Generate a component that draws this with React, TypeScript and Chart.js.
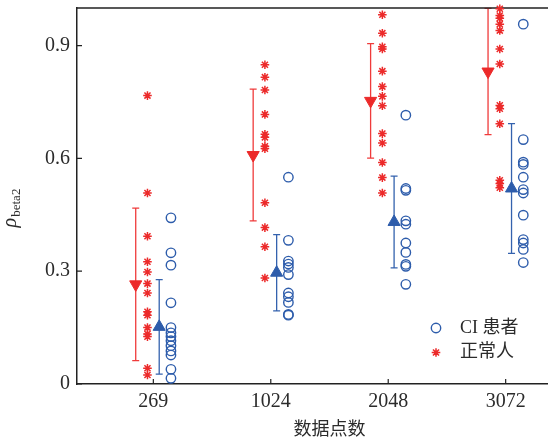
import React, { useEffect, useRef } from "react";
import { Chart, registerables } from "chart.js";

Chart.register(...registerables);

// ---------- data ----------
const categories = ["269", "1024", "2048", "3072"];
const yTickValues = [0, 0.3, 0.6, 0.9];
const seriesLabels = ["CI 患者", "正常人"];
const xAxisTitle = "数据点数";

const ciValues = [
  [0.442, 0.349, 0.316, 0.216, 0.15, 0.136, 0.126, 0.115, 0.102, 0.088, 0.077, 0.039, 0.015],
  [0.55, 0.382, 0.327, 0.319, 0.31, 0.291, 0.242, 0.232, 0.217, 0.185, 0.183],
  [0.715, 0.52, 0.515, 0.434, 0.425, 0.375, 0.35, 0.318, 0.313, 0.265],
  [0.957, 0.65, 0.59, 0.584, 0.55, 0.517, 0.508, 0.449, 0.384, 0.375, 0.358, 0.323],
];
const normalValues = [
  [0.767, 0.508, 0.393, 0.325, 0.298, 0.267, 0.242, 0.192, 0.183, 0.15, 0.133, 0.126, 0.042, 0.024],
  [0.849, 0.816, 0.782, 0.717, 0.664, 0.656, 0.632, 0.626, 0.482, 0.416, 0.365, 0.282],
  [0.982, 0.933, 0.897, 0.891, 0.832, 0.791, 0.765, 0.74, 0.666, 0.641, 0.589, 0.549, 0.508],
  [0.998, 0.98, 0.973, 0.957, 0.94, 0.891, 0.851, 0.741, 0.732, 0.692, 0.542, 0.533, 0.522],
];
const ciMean = [0.152, 0.296, 0.431, 0.52];
const ciStd = [0.1255, 0.1015, 0.122, 0.1725];
const normalMean = [0.265, 0.609, 0.753, 0.831];
const normalStd = [0.203, 0.175, 0.1525, 0.168];

// ---------- styling / layout ----------
const RED = "#ec2a2a";
const RED_BAR = "#ef3b3b";
const BLUE = "#2d5cab";
const BLUE_BAR = "#3462ae";
const AXIS = "#222222";
const TEXT = "#2b2b2b";
const SERIF = '"Liberation Serif", "DejaVu Serif", serif';
const CJK = '"Noto Sans CJK SC", sans-serif';

const OFF_NORMAL_BAR = -0.15;
const OFF_NORMAL_PTS = -0.05;
const OFF_CI_BAR = 0.05;
const OFF_CI_PTS = 0.15;

const CANVAS_W = 590;
const CANVAS_H = 443;

export default function App() {
  const ref = useRef<HTMLCanvasElement | null>(null);

  useEffect(() => {
    const canvas = ref.current;
    if (!canvas) return;

    const ciPts = ciValues.flatMap((arr, i) => arr.map((v) => ({ x: i + 1 + OFF_CI_PTS, y: v })));
    const normalPts = normalValues.flatMap((arr, i) => arr.map((v) => ({ x: i + 1 + OFF_NORMAL_PTS, y: v })));
    const ciMeanPts = ciMean.map((m, i) => ({ x: i + 1 + OFF_CI_BAR, y: m }));
    const normalMeanPts = normalMean.map((m, i) => ({ x: i + 1 + OFF_NORMAL_BAR, y: m }));

    const decor = {
      id: "decor",
      beforeDatasetsDraw(chart: any) {
        const { ctx, chartArea, scales } = chart;
        const xs = scales.x;
        const ys = scales.y;
        ctx.save();
        const drawBar = (xv: number, m: number, s: number, color: string) => {
          const px = xs.getPixelForValue(xv);
          const top = ys.getPixelForValue(m + s);
          const bot = ys.getPixelForValue(m - s);
          ctx.strokeStyle = color;
          ctx.lineWidth = 1.3;
          ctx.beginPath();
          ctx.moveTo(px, top);
          ctx.lineTo(px, bot);
          ctx.moveTo(px - 3.5, top);
          ctx.lineTo(px + 3.5, top);
          ctx.moveTo(px - 3.5, bot);
          ctx.lineTo(px + 3.5, bot);
          ctx.stroke();
        };
        categories.forEach((_, i) => {
          drawBar(i + 1 + OFF_NORMAL_BAR, normalMean[i], normalStd[i], RED_BAR);
          drawBar(i + 1 + OFF_CI_BAR, ciMean[i], ciStd[i], BLUE_BAR);
        });
        ctx.strokeStyle = AXIS;
        ctx.lineWidth = 1.5;
        ctx.beginPath();
        ctx.moveTo(chartArea.left, chartArea.top);
        ctx.lineTo(chartArea.right, chartArea.top);
        ctx.lineTo(chartArea.right, chartArea.bottom);
        ctx.stroke();
        ctx.lineWidth = 1.2;
        ctx.beginPath();
        yTickValues.forEach((v) => {
          const py = ys.getPixelForValue(v);
          ctx.moveTo(chartArea.left, py);
          ctx.lineTo(chartArea.left + 5, py);
        });
        categories.forEach((_, i) => {
          const px = xs.getPixelForValue(i + 1);
          ctx.moveTo(px, chartArea.bottom);
          ctx.lineTo(px, chartArea.bottom - 5);
        });
        ctx.stroke();
        ctx.restore();
      },
      afterDraw(chart: any) {
        const { ctx, chartArea } = chart;
        ctx.save();
        const cy = (chartArea.top + chartArea.bottom) / 2 + 12;
        ctx.translate(16, cy);
        ctx.rotate(-Math.PI / 2);
        ctx.fillStyle = TEXT;
        ctx.textBaseline = "alphabetic";
        ctx.font = `italic 20px ${SERIF}`;
        const w1 = ctx.measureText("ρ").width;
        ctx.font = `13px ${SERIF}`;
        const w2 = ctx.measureText("beta2").width;
        const start = -(w1 + 1 + w2) / 2;
        ctx.font = `italic 20px ${SERIF}`;
        ctx.fillText("ρ", start, 0);
        ctx.font = `13px ${SERIF}`;
        ctx.fillText("beta2", start + w1 + 1, 4);
        ctx.restore();

        ctx.save();
        const lx = chartArea.right - 146;
        const ly = chartArea.bottom - 56;
        ctx.strokeStyle = BLUE;
        ctx.lineWidth = 1.4;
        ctx.beginPath();
        ctx.arc(lx, ly, 4.7, 0, Math.PI * 2);
        ctx.stroke();
        ctx.strokeStyle = RED;
        ctx.lineWidth = 1.5;
        ctx.beginPath();
        const r = 4.3;
        for (let k = 0; k < 4; k++) {
          const a = (k * Math.PI) / 4;
          ctx.moveTo(lx - Math.cos(a) * r, ly + 24.5 - Math.sin(a) * r);
          ctx.lineTo(lx + Math.cos(a) * r, ly + 24.5 + Math.sin(a) * r);
        }
        ctx.stroke();
        ctx.fillStyle = TEXT;
        ctx.font = `18px ${SERIF}, ${CJK}`;
        ctx.textBaseline = "middle";
        ctx.textAlign = "left";
        ctx.fillText(seriesLabels[0], lx + 24, ly);
        ctx.fillText(seriesLabels[1], lx + 24, ly + 24.5);
        ctx.restore();
      },
    };

    const chart = new Chart(canvas, {
      type: "scatter",
      data: {
        datasets: [
          {
            label: seriesLabels[1],
            data: normalPts,
            pointStyle: "star",
            pointRadius: 4.3,
            borderColor: RED,
            backgroundColor: RED,
            borderWidth: 1.5,
            clip: false,
          },
          {
            label: seriesLabels[0],
            data: ciPts,
            pointStyle: "circle",
            pointRadius: 4.7,
            borderColor: BLUE,
            backgroundColor: "rgba(0,0,0,0)",
            borderWidth: 1.4,
            clip: false,
          },
          {
            label: "normal mean",
            data: normalMeanPts,
            pointStyle: "triangle",
            rotation: 180,
            pointRadius: 7,
            borderColor: RED,
            backgroundColor: RED,
            borderWidth: 1,
            clip: false,
          },
          {
            label: "ci mean",
            data: ciMeanPts,
            pointStyle: "triangle",
            pointRadius: 7,
            borderColor: BLUE,
            backgroundColor: BLUE,
            borderWidth: 1,
            clip: false,
          },
        ] as any,
      },
      options: {
        animation: false,
        responsive: false,
        devicePixelRatio: 1,
        layout: { padding: { top: 7, right: 5, left: 0, bottom: 0 } },
        plugins: { legend: { display: false }, tooltip: { enabled: false } },
        scales: {
          x: {
            type: "linear",
            min: 0.35,
            max: 4.65,
            afterBuildTicks: (s: any) => {
              s.ticks = categories.map((_, i) => ({ value: i + 1 }));
            },
            afterFit: (s: any) => {
              s.height = 59;
              s.paddingLeft = 0;
              s.paddingRight = 0;
            },
            ticks: {
              callback: (v: any) => categories[Math.round(v) - 1] ?? "",
              font: { family: SERIF, size: 20 },
              color: TEXT,
              padding: 6,
              maxRotation: 0,
              autoSkip: false,
            },
            grid: { display: true, drawOnChartArea: false, drawTicks: false },
            border: { display: true, color: AXIS, width: 1.5 },
            title: {
              display: true,
              text: xAxisTitle,
              font: { family: CJK, size: 18 },
              color: TEXT,
              padding: { top: 0, bottom: 4 },
            },
          },
          y: {
            type: "linear",
            min: 0,
            max: 1,
            afterBuildTicks: (s: any) => {
              s.ticks = yTickValues.map((v) => ({ value: v }));
            },
            afterFit: (s: any) => {
              s.width = 77;
              s.paddingTop = 0;
              s.paddingBottom = 0;
            },
            ticks: {
              callback: (v: any) => String(v),
              font: { family: SERIF, size: 20 },
              color: TEXT,
              padding: 7,
            },
            grid: { display: true, drawOnChartArea: false, drawTicks: false },
            border: { display: true, color: AXIS, width: 1.5 },
          },
        },
      },
      plugins: [decor],
    } as any);

    return () => chart.destroy();
  }, []);

  return (
    <div
      style={{
        position: "fixed",
        left: 0,
        top: 0,
        width: 548,
        height: 443,
        overflow: "hidden",
        background: "#ffffff",
      }}
    >
      <canvas ref={ref} width={CANVAS_W} height={CANVAS_H} style={{ display: "block", width: CANVAS_W, height: CANVAS_H }} />
    </div>
  );
}
